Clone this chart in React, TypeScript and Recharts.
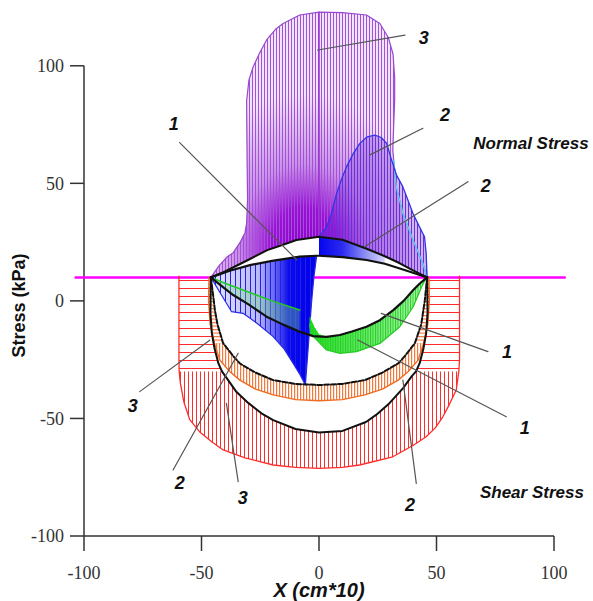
import React from 'react';
import { ScatterChart, Scatter, XAxis, YAxis, ReferenceLine, Label } from 'recharts';

type Pt = { x: number; y: number };
const pts = (arr: number[][]): Pt[] => arr.map(([x, y]) => ({ x, y }));

const X_TICKS = [-100, -50, 0, 50, 100];
const Y_TICKS = [-100, -50, 0, 50, 100];

// footing level (magenta line) and its span
const footingLevel = 10;
const footingSpan = [-104, 105];

// ---- shear stress ----
// curve 3 band, red outer edge
const redOuter = pts([[-59.6, 10.5], [-59.6, -10], [-59.6, -25], [-59.5, -30], [-59, -35], [-57.5, -43], [-55, -50.5], [-50.5, -56], [-45.5, -60], [-40.8, -63.4], [-31.5, -66.8], [-19.5, -69.8], [-10, -70.8], [0, -71.2], [10, -70.8], [17.3, -69.8], [31.4, -66.3], [40, -61.5], [45.6, -57.8], [49.5, -54], [52.7, -49.3], [55.5, -44], [58.4, -37.9], [59.5, -30], [59.8, -25], [59.8, -10], [59.8, 10.5]]);
// black curve 3
const shear3 = pts([[-46, 10], [-46.2, -5], [-45.6, -13.8], [-44.5, -20], [-42.8, -26.6], [-41.3, -30], [-39.5, -32.5], [-35.3, -38.5], [-30, -43.5], [-24.5, -47.8], [-19.5, -50.7], [-10, -54.5], [0, -56], [10, -55.3], [20, -51.5], [24.3, -48.5], [30, -43.5], [35.7, -37.2], [39.5, -32], [41.3, -30], [42.8, -26.6], [44.5, -20], [45.6, -13.8], [46.2, -5], [46, 10]]);
// curve 2 band, orange outer edge
const orangeOuter = pts([[-46.8, 10], [-47, 0], [-46.3, -10], [-44.5, -18], [-42.2, -25.2], [-38, -30], [-33.7, -33.7], [-27, -37.5], [-19.5, -40], [-10, -42], [0, -42.5], [10, -42], [19.5, -40], [27, -37.5], [33.7, -33.7], [38, -30], [42.2, -25.2], [44.5, -18], [46.3, -10], [47, 0], [46.8, 10]]);
// black dashed curve 2
const shear2 = pts([[-46, 10], [-45, 2], [-44.3, -3.9], [-43.2, -10], [-40.8, -18], [-36.5, -23.5], [-33.7, -26.6], [-27, -30.5], [-19.5, -33.7], [-10, -35.3], [0, -35.8], [10, -35.3], [19.5, -33.7], [27, -30.5], [33.7, -26.6], [36.5, -23.5], [40.8, -18], [43.5, -10], [45, 0], [46, 10]]);
// black curve 1
const shear1 = pts([[-46, 10], [-41, 6], [-36.5, 2.5], [-30, -1.5], [-22.3, -6.7], [-15, -10.2], [-8.2, -13.1], [-2.5, -15], [3.2, -15.3], [8.9, -14.5], [14, -13], [20.2, -11], [25.9, -8.2], [31.6, -3.9], [36, 0], [40.1, 4.6], [43, 7.5], [46, 10]]);
// curve 1 green band
const greenUpper = pts([[-4, -6.5], [-2, -11], [0, -14.2], [3.2, -15.3], [8.9, -14.5], [14, -13], [20.2, -11], [25.9, -8.2], [31.6, -3.9], [36, 0], [40.1, 4.6], [43, 7.5], [45.5, 9.5]]);
const greenLower = pts([[-4, -10], [-3.5, -14], [-1, -16.6], [3.2, -20.9], [8.9, -22.3], [16, -21.6], [25.9, -18.1], [34.4, -11], [40.1, -2.5], [43.7, 6], [45.5, 9.5]]);
const greenLeft = pts([[-46, 10], [-40, 7.5], [-32.3, 4.6], [-20, 0], [-8.2, -3.9]]);

// ---- normal stress ----
const normal1 = pts([[-46, 10], [-38, 12.8], [-29.4, 15.2], [-20, 17], [-8.2, 18.8], [-1, 19.2], [0, 19.2], [10, 18.6], [20.2, 17.4], [28, 15.8], [34.4, 13.8], [40, 12], [46, 10]]);
const blueFan = pts([[-46, 10], [-41.5, 2.5], [-37.2, -4.6], [-32.3, -5.3], [-26, -9.8], [-19.5, -15.2], [-14.8, -20.5], [-11, -26.6], [-8, -31.5], [-5.8, -35.8], [-4.6, -20], [-3.2, -1], [-2.2, 10], [-1, 19.2]]);
const lensTop = pts([[-46, 10], [-40, 12.5], [-30, 17.5], [-22, 21.6], [-15, 24], [-9.6, 25.9], [0, 27.3], [10, 26], [20, 22.3], [28, 19], [34.4, 16], [40, 13], [46, 10]]);
const normal3 = pts([[-46, 10], [-42.5, 15], [-39, 18.8], [-36.5, 20.5], [-33.5, 25], [-31.5, 29], [-30.8, 33], [-30.4, 43], [-30.6, 60], [-30.8, 85], [-29.8, 94], [-28, 99.6], [-25, 106], [-22.3, 111], [-18.5, 115.5], [-15.3, 118], [-8.2, 121.6], [0, 122.8], [10, 122.6], [20.2, 121.6], [25.9, 118], [29.5, 112], [31.5, 105], [32.2, 95], [32.2, 85.4], [31.8, 75], [31.4, 64], [31.8, 59.8], [32.9, 48.5], [35.7, 37.2], [40, 25.9], [44.2, 16], [46, 10]]);
const normal2 = pts([[0, 27.3], [3, 31], [5, 36], [7.5, 45.7], [9.5, 51.5], [11.7, 57], [14.5, 62.5], [17.4, 67], [20.5, 69.8], [23.8, 70.5], [26.5, 69.5], [28.8, 67], [30.9, 59.9], [33, 53.5], [35.7, 48.5], [38, 42.5], [40, 37.2], [42.5, 32], [44.9, 27.3], [45.6, 20.2], [46, 10]]);
const spine = pts([[0, 27.3], [0, 122.8]]);

// annotations
const leaders = [
  [36.6, 113.0, -0.5, 106.7], [44.2, 73.4, 21.5, 62], [63.4, 50.7, 19.4, 23.0], [-59.3, 67.3, -9.4, 17.4],
  [71.9, -21.6, 26.5, -5.3], [79.7, -49.3, 16.5, -16.6], [41.4, -77.6, 35.7, -33.7],
  [-76.3, -38.6, -46.5, -16.7], [-62.1, -71.9, -34.4, -22.3], [-34.4, -76.9, -39.4, -43.6],
];
const labels = [
  { x: 44.6, y: 111.8, text: '3' }, { x: 53.6, y: 79, text: '2' }, { x: 71, y: 48.8, text: '2' },
  { x: -61.8, y: 75.2, text: '1' }, { x: 80, y: -21.7, text: '1' }, { x: 87.6, y: -54, text: '1' },
  { x: 38.7, y: -86.8, text: '2' }, { x: -79.3, y: -44.7, text: '3' }, { x: -59.3, y: -77.5, text: '2' },
  { x: -32.4, y: -83.8, text: '3' }, { x: 90.2, y: 67.1, text: 'Normal Stress' }, { x: 90.6, y: -81.3, text: 'Shear Stress' },
];

const rev = (a: Pt[]) => a.slice().reverse();
const poly = (outer: Pt[], inner: Pt[]) => [...outer, ...rev(inner)];

const redLeft = poly(redOuter.filter(p => p.x < 0 && p.y >= -30), shear3.filter(p => p.x < 0 && p.y >= -30));
const redBottom = poly(redOuter.filter(p => p.y <= -30), shear3.filter(p => p.y <= -30));
const redRight = poly(redOuter.filter(p => p.x > 0 && p.y >= -30), shear3.filter(p => p.x > 0 && p.y >= -30));
const orLeft = poly(orangeOuter.filter(p => p.x < 0 && p.y >= -18), shear2.filter(p => p.x < 0 && p.y >= -18));
const orBottom = poly(orangeOuter.filter(p => p.y <= -18), shear2.filter(p => p.y <= -18));
const orRight = poly(orangeOuter.filter(p => p.x > 0 && p.y >= -18), shear2.filter(p => p.x > 0 && p.y >= -18));
const greenBand = poly(greenUpper, greenLower);
const greenSliver = poly(greenLeft, shear1.filter(p => p.x <= -8.2));
const blueLeft = poly(blueFan, normal1.filter(p => p.x < -1));
const blueRight = poly(lensTop.filter(p => p.x >= 0 && p.x <= 28), normal1.filter(p => p.x >= 0 && p.x <= 28));
const purple3 = poly(normal3, lensTop);
const purple2 = poly(normal2, lensTop.filter(p => p.x > 0 && p.x < 46));

const pathOf = (points: { x: number; y: number }[], close: boolean) =>
  points.map((p, i) => `${i ? 'L' : 'M'}${p.x.toFixed(2)},${p.y.toFixed(2)}`).join(' ') + (close ? ' Z' : '');

const noDot = () => <g />;

const fillLine = (fills: string[]) => (props: any) => (
  <g>
    {fills.map((f, i) => <path key={i} d={pathOf(props.points, true)} fill={f} stroke="none" />)}
  </g>
);
const strokeLine = (stroke: string, width: number, dash?: string) => (props: any) => (
  <path d={pathOf(props.points, false)} fill="none" stroke={stroke} strokeWidth={width} strokeDasharray={dash} strokeLinejoin="round" strokeLinecap="round" />
);

const region = (key: string, data: Pt[], fills: string[]) => (
  <Scatter key={key} data={data} line={fillLine(fills)} lineType="joint" shape={noDot} isAnimationActive={false} />
);
const curve = (key: string, data: Pt[], stroke: string, width: number, dash?: string) => (
  <Scatter key={key} data={data} line={strokeLine(stroke, width, dash)} lineType="joint" shape={noDot} isAnimationActive={false} />
);

const SANS = "'Liberation Sans', Arial, sans-serif";
const SERIF = "'Liberation Serif', 'DejaVu Serif', 'Times New Roman', serif";

const labelShape = (props: any) => {
  const long = props.payload.text.length > 1;
  return (
    <text x={props.cx} y={props.cy} textAnchor="middle" dominantBaseline="central" fill="#111"
      style={{ fontFamily: SANS, fontWeight: 'bold', fontStyle: 'italic', fontSize: long ? 17 : 18 }}>
      {props.payload.text}
    </text>
  );
};

const XTick = (props: any) => (
  <g>
    <text x={props.x} y={props.y} dy="0.71em" textAnchor="middle" fill="#333" fontFamily={SERIF} fontSize={18}
      style={{ fontFamily: SERIF, fontSize: '18px' }}>
      {String(props.payload.value)}
    </text>
  </g>
);
const YTick = (props: any) => (
  <g>
    <text x={props.x} y={props.y} dy="0.355em" textAnchor="end" fill="#333" fontFamily={SERIF} fontSize={18}
      style={{ fontFamily: SERIF, fontSize: '18px' }}>
      {String(props.payload.value)}
    </text>
  </g>
);

export default function App() {
  return (
    <div style={{ position: 'absolute', left: 0, top: 0, width: 593, height: 601, background: '#fff', fontFamily: SERIF }}>
      <ScatterChart width={593} height={601} margin={{ top: 7, right: 39, bottom: 0, left: 0 }}>
        <defs>
          <pattern id="redV" width="4" height="4" patternUnits="userSpaceOnUse">
            <line x1="0.5" y1="0" x2="0.5" y2="4" stroke="#ff2b2b" strokeWidth="1" />
          </pattern>
          <pattern id="redH" width="4" height="8" patternUnits="userSpaceOnUse">
            <line x1="0" y1="0.5" x2="4" y2="0.5" stroke="#ff2b2b" strokeWidth="1" />
          </pattern>
          <pattern id="orV" width="3" height="3" patternUnits="userSpaceOnUse">
            <line x1="0.6" y1="0" x2="0.6" y2="3" stroke="#f4783a" strokeWidth="1.2" />
          </pattern>
          <pattern id="orH" width="3" height="3.5" patternUnits="userSpaceOnUse">
            <line x1="0" y1="0.6" x2="3" y2="0.6" stroke="#f4783a" strokeWidth="1.2" />
          </pattern>
          <pattern id="purV" width="3" height="3" patternUnits="userSpaceOnUse">
            <line x1="0.5" y1="0" x2="0.5" y2="3" stroke="#a450dc" strokeWidth="1" />
          </pattern>
          <pattern id="vioV" width="3" height="3" patternUnits="userSpaceOnUse">
            <line x1="0.5" y1="0" x2="0.5" y2="3" stroke="#6a30dc" strokeWidth="1" />
          </pattern>
          <pattern id="bluV" width="5" height="5" patternUnits="userSpaceOnUse">
            <line x1="0.5" y1="0" x2="0.5" y2="5" stroke="#2020e8" strokeWidth="1" />
          </pattern>
          <pattern id="grnV" width="2.5" height="3" patternUnits="userSpaceOnUse">
            <line x1="0.5" y1="0" x2="0.5" y2="3" stroke="#22d022" strokeWidth="1" />
          </pattern>
          <radialGradient id="purGrad" cx="0.43" cy="0.86" r="0.55" fx="0.43" fy="0.9">
            <stop offset="0" stopColor="#8f00cc" />
            <stop offset="0.28" stopColor="#9a12d4" />
            <stop offset="0.55" stopColor="#c890e6" />
            <stop offset="1" stopColor="#f0e4f8" />
          </radialGradient>
          <linearGradient id="bluGrad" x1="0" y1="0" x2="1" y2="0">
            <stop offset="0" stopColor="#e6e6fc" />
            <stop offset="0.45" stopColor="#b8b8f6" />
            <stop offset="0.64" stopColor="#5050f0" />
            <stop offset="0.74" stopColor="#0a0aee" />
            <stop offset="1" stopColor="#0000ea" />
          </linearGradient>
          <linearGradient id="bluGrad2" x1="0" y1="0" x2="1" y2="0">
            <stop offset="0" stopColor="#0505ee" />
            <stop offset="0.35" stopColor="#2a2af0" />
            <stop offset="0.75" stopColor="#9a9af4" />
            <stop offset="1" stopColor="#d8d8fa" />
          </linearGradient>
          <linearGradient id="grnGrad" x1="0" y1="0" x2="1" y2="0">
            <stop offset="0" stopColor="#18dd18" />
            <stop offset="0.18" stopColor="#40e040" />
            <stop offset="1" stopColor="#b8f4b8" />
          </linearGradient>
        </defs>

        <XAxis type="number" dataKey="x" domain={[-100, 100]} ticks={X_TICKS} interval={0} height={65}
          tick={<XTick />} tickSize={15} tickMargin={15}
          axisLine={{ stroke: '#333', strokeWidth: 1.5 }} tickLine={{ stroke: '#333', strokeWidth: 1.5 }}>
          <Label value="X (cm*10)" position="insideBottom" offset={4}
            style={{ fontFamily: SANS, fontWeight: 'bold', fontStyle: 'italic', fontSize: 20, fill: '#111' }} />
        </XAxis>
        <YAxis type="number" dataKey="y" domain={[-100, 125]} ticks={Y_TICKS} interval={0} width={84}
          tick={<YTick />} tickSize={14} tickMargin={6} axisLine={false}
          tickLine={{ stroke: '#333', strokeWidth: 1.5 }}>
          <Label value="Stress (kPa)" angle={-90} position="center" dx={-23} dy={34}
            style={{ fontFamily: SANS, fontWeight: 'bold', fontSize: 18, fill: '#111' }} />
        </YAxis>

        {/* shear stress bands */}
        {region('redL', redLeft, ['url(#redH)'])}
        {region('redB', redBottom, ['url(#redV)'])}
        {region('redR', redRight, ['url(#redH)'])}
        {region('orL', orLeft, ['url(#orH)'])}
        {region('orB', orBottom, ['url(#orV)'])}
        {region('orR', orRight, ['url(#orH)'])}
        {curve('redEdge', redOuter, '#ff2b2b', 1.3)}
        {curve('orEdge', orangeOuter, '#f06a20', 1.4)}

        {/* normal stress */}
        {region('pur3', purple3, ['url(#purGrad)', 'url(#purV)'])}
        {region('pur2', purple2, ['rgba(115,35,215,0.33)', 'url(#vioV)'])}
        {curve('spine', spine, '#9a30d0', 1.5)}
        {curve('n3edge', normal3, '#9848cc', 1.2)}
        {curve('n3cyan', normal3.filter(p => p.x > 31 && p.y < 62), '#55d8f0', 1.2)}
        {curve('n2edge', normal2, '#3434e6', 1.3)}
        {region('bluL', blueLeft, ['url(#bluGrad)', 'url(#bluV)'])}
        {region('bluR', blueRight, ['url(#bluGrad2)'])}
        {curve('bluEdge', blueFan, '#2a2ae6', 1.2)}

        {region('grn', greenBand, ['url(#grnGrad)', 'url(#grnV)'])}
        {region('grnS', greenSliver, ['rgba(120,230,120,0.35)'])}
        {curve('grnEdge', greenLower, '#22cc22', 1.2)}
        {curve('grnLeft', greenLeft, '#22cc22', 1.5)}

        {/* black curves */}
        {curve('s3', shear3, '#111', 2)}
        {curve('s2', shear2, '#111', 2, '5 2')}
        {curve('s1', shear1, '#111', 2.2)}
        {curve('n1', normal1, '#111', 2.2)}
        {curve('lens', lensTop, '#111', 2)}

        {/* leaders */}
        {leaders.map((l, i) => curve(`ld${i}`, pts([[l[0], l[1]], [l[2], l[3]]]), '#555', 1.2))}
        <Scatter data={labels} shape={labelShape} isAnimationActive={false} />

        <ReferenceLine segment={[{ x: -100, y: -100 }, { x: -100, y: 100 }]} stroke="#333" strokeWidth={1.5} ifOverflow="visible" />
        <ReferenceLine segment={[{ x: footingSpan[0], y: footingLevel }, { x: footingSpan[1], y: footingLevel }]}
          stroke="#ff00ff" strokeWidth={2.5} ifOverflow="visible" />
      </ScatterChart>
    </div>
  );
}
